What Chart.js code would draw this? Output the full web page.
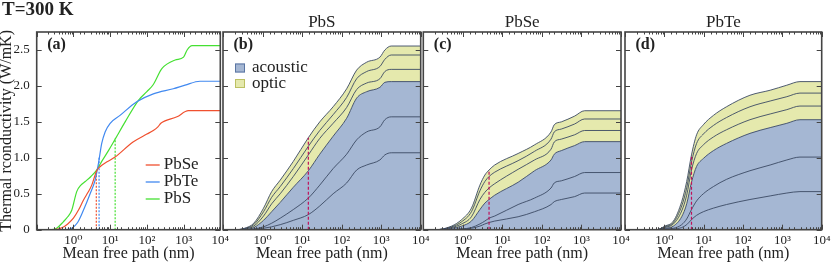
<!DOCTYPE html>
<html>
<head>
<meta charset="utf-8">
<script src="https://cdn.jsdelivr.net/npm/chart.js@4.4.1/dist/chart.umd.min.js"></script>
<style>
  html, body { margin:0; padding:0; background:#fff; }
  #wrap { position:relative; width:831px; height:263px; overflow:hidden; }
  #wrap canvas { position:absolute; top:0; }
</style>
</head>
<body>
<div id="wrap">
  <canvas id="panelA" width="232" height="263" style="left:0px"></canvas>
  <canvas id="panelB" width="218" height="263" style="left:213px"></canvas>
  <canvas id="panelC" width="218" height="263" style="left:413px"></canvas>
  <canvas id="panelD" width="216" height="263" style="left:615px"></canvas>
</div>
<script>
// ── Data ──
const xTickLabels = ['10⁰', '10¹', '10²', '10³', '10⁴'];
const yTickLabels = ['0', '0.5', '1.0', '1.5', '2.0', '2.5'];

// (a) total cumulative conductivity vs mean free path
const materials = ['PbSe', 'PbTe', 'PbS'];
const mfpSe = [0.1, 0.3, 0.5, 0.7, 1.0, 1.4, 1.87, 2.5, 3.16, 4.3, 5.3, 8, 13.6, 42, 100, 150, 200, 240, 660, 1350, 10000];
const kSe   = [0, 0, 0.03, 0.08, 0.16, 0.28, 0.41, 0.52, 0.62, 0.82, 0.875, 0.94, 1.01, 1.22, 1.33, 1.38, 1.43, 1.48, 1.57, 1.655, 1.655];
const mfpTe = [0.1, 0.6, 0.9, 1.3, 1.87, 2.85, 3.9, 4.8, 5.9, 7.3, 10, 18.6, 53, 150, 525, 1100, 2800, 10000];
const kTe   = [0, 0, 0.02, 0.1, 0.27, 0.5, 0.69, 0.92, 1.2, 1.36, 1.48, 1.59, 1.78, 1.89, 1.96, 2.01, 2.065, 2.065];
const mfpS  = [0.1, 0.25, 0.35, 0.53, 0.7, 0.9, 1.23, 1.6, 2.1, 3, 4.3, 5.9, 9, 13.7, 25.6, 59, 100, 150, 256, 590, 1000, 1250, 1700, 10000];
const kS    = [0, 0, 0.02, 0.11, 0.18, 0.27, 0.53, 0.62, 0.67, 0.74, 0.83, 0.95, 1.10, 1.26, 1.50, 1.80, 1.92, 2.02, 2.24, 2.36, 2.40, 2.50, 2.56, 2.56];
const halfMfp = [4.2, 5.0, 13.7];
const halfK   = [0.82, 1.02, 1.27];

// (b)-(d) per-branch cumulative curves, lowest first; first three acoustic, last three optic
const modeNames = ['acoustic', 'optic'];
const mfpPbS = [0.1, 0.2, 0.35, 0.6, 1.06, 1.7, 2.8, 6, 14.4, 28, 61, 134, 240, 430, 930, 1240, 1800, 10000];
const cumPbS = [
  [0, 0, 0, 0.005, 0.02, 0.04, 0.07, 0.13, 0.21, 0.33, 0.50, 0.65, 0.83, 0.90, 0.97, 1.04, 1.07, 1.07],
  [0, 0, 0, 0.01, 0.04, 0.09, 0.16, 0.28, 0.44, 0.62, 0.85, 1.05, 1.25, 1.36, 1.43, 1.53, 1.57, 1.57],
  [0, 0, 0.005, 0.03, 0.13, 0.25, 0.38, 0.59, 0.82, 1.05, 1.30, 1.55, 1.83, 1.92, 1.98, 2.05, 2.06, 2.06],
  [0, 0, 0.01, 0.05, 0.19, 0.36, 0.50, 0.74, 1.04, 1.27, 1.48, 1.70, 1.95, 2.04, 2.10, 2.20, 2.23, 2.23],
  [0, 0, 0.015, 0.07, 0.25, 0.45, 0.60, 0.85, 1.16, 1.38, 1.60, 1.84, 2.10, 2.20, 2.27, 2.37, 2.43, 2.43],
  [0, 0, 0.02, 0.09, 0.30, 0.53, 0.69, 0.95, 1.28, 1.50, 1.71, 1.96, 2.22, 2.33, 2.40, 2.50, 2.555, 2.555],
];
const halfPbS = [14.4, 1.28];

const mfpPbSe = [0.1, 0.2, 0.52, 0.93, 1.65, 2.7, 3.6, 4.6, 6.4, 25, 65, 170, 205, 310, 670, 1200, 10000];
const cumPbSe = [
  [0, 0, 0.003, 0.008, 0.02, 0.05, 0.08, 0.10, 0.12, 0.18, 0.25, 0.35, 0.39, 0.42, 0.46, 0.51, 0.51],
  [0, 0, 0.005, 0.01, 0.03, 0.08, 0.12, 0.16, 0.19, 0.35, 0.44, 0.58, 0.65, 0.68, 0.74, 0.795, 0.795],
  [0, 0, 0.02, 0.05, 0.12, 0.28, 0.37, 0.42, 0.48, 0.66, 0.82, 0.97, 1.05, 1.10, 1.17, 1.225, 1.225],
  [0, 0, 0.03, 0.08, 0.18, 0.42, 0.52, 0.58, 0.64, 0.84, 0.97, 1.12, 1.22, 1.26, 1.32, 1.38, 1.38],
  [0, 0, 0.04, 0.11, 0.25, 0.54, 0.67, 0.74, 0.80, 0.96, 1.09, 1.26, 1.36, 1.40, 1.47, 1.54, 1.54],
  [0, 0, 0.05, 0.14, 0.30, 0.62, 0.76, 0.83, 0.90, 1.06, 1.18, 1.36, 1.46, 1.50, 1.58, 1.655, 1.655],
];
const halfPbSe = [4.6, 0.83];

const mfpPbTe = [0.1, 0.64, 1.03, 1.7, 2.76, 3.7, 4.9, 6.6, 9.8, 17.7, 38, 150, 490, 1300, 2800, 10000];
const cumPbTe = [
  [0, 0, 0.005, 0.01, 0.03, 0.07, 0.14, 0.20, 0.25, 0.30, 0.35, 0.42, 0.47, 0.51, 0.53, 0.53],
  [0, 0, 0.01, 0.02, 0.07, 0.15, 0.28, 0.40, 0.50, 0.60, 0.70, 0.82, 0.90, 0.97, 1.01, 1.01],
  [0, 0, 0.02, 0.05, 0.18, 0.36, 0.66, 0.88, 0.99, 1.10, 1.20, 1.34, 1.42, 1.48, 1.53, 1.53],
  [0, 0, 0.03, 0.08, 0.26, 0.48, 0.83, 1.06, 1.18, 1.29, 1.39, 1.53, 1.61, 1.67, 1.72, 1.72],
  [0, 0, 0.04, 0.10, 0.33, 0.58, 0.94, 1.20, 1.33, 1.45, 1.56, 1.71, 1.79, 1.85, 1.90, 1.90],
  [0, 0, 0.05, 0.12, 0.39, 0.67, 1.04, 1.32, 1.46, 1.59, 1.71, 1.87, 1.94, 2.01, 2.06, 2.06],
];
const halfPbTe = [4.9, 1.04];

// ── Style ──
const FONT = "'Liberation Serif', 'DejaVu Serif', serif";
const INK = '#222';
const FRAME = '#444';
const LINE_COLORS = ['#f0502f', '#4189f0', '#45e032'];
const AREA = { acoustic: '#a5b7d3', optic: '#e5e9ad', edge: '#3b4a63', half: '#c0105a' };

Chart.defaults.font.family = FONT;
Chart.defaults.color = INK;
Chart.defaults.animation = false;

const isDecade = v => {
  const e = Math.log10(v);
  return Math.abs(e - Math.round(e)) < 1e-6;
};

const toPoints = (xs, ys) => xs.map((x, i) => ({ x, y: ys[i] }));

// ── Plugins: inner tick marks + frame, panel texts ──
const frameTicks = {
  id: 'frameTicks',
  afterDraw(chart) {
    const { ctx, chartArea: a, scales: { x, y } } = chart;
    ctx.save();
    ctx.strokeStyle = FRAME;
    ctx.lineWidth = 1;
    ctx.beginPath();
    x.ticks.forEach(t => {
      const px = Math.round(x.getPixelForValue(t.value)) + 0.5;
      const len = isDecade(t.value) ? 5 : 2.5;
      ctx.moveTo(px, a.bottom); ctx.lineTo(px, a.bottom - len);
      ctx.moveTo(px, a.top); ctx.lineTo(px, a.top + len);
    });
    y.ticks.forEach(t => {
      const py = Math.round(y.getPixelForValue(t.value)) + 0.5;
      ctx.moveTo(a.left, py); ctx.lineTo(a.left + 5, py);
      ctx.moveTo(a.right, py); ctx.lineTo(a.right - 5, py);
    });
    ctx.stroke();
    ctx.lineWidth = 1.6;
    ctx.strokeRect(a.left, a.top, a.right - a.left, a.bottom - a.top);
    ctx.restore();
  }
};

const panelText = {
  id: 'panelText',
  afterDraw(chart, args, opts) {
    const { ctx, chartArea: a } = chart;
    ctx.save();
    ctx.fillStyle = INK;
    ctx.textBaseline = 'middle';
    ctx.textAlign = 'left';
    ctx.font = `bold 16px ${FONT}`;
    ctx.fillText(opts.tag, a.left + 10.5, a.top + 12.5);

    ctx.font = `17px ${FONT}`;
    (opts.lines || []).forEach((it, i) => {
      const yy = a.top + opts.top + i * opts.gap;
      ctx.strokeStyle = it.color;
      ctx.lineWidth = 1.3;
      ctx.beginPath();
      ctx.moveTo(a.left + opts.left, yy);
      ctx.lineTo(a.left + opts.left + 14, yy);
      ctx.stroke();
      ctx.fillText(it.label, a.left + opts.left + 18, yy);
    });
    (opts.boxes || []).forEach((it, i) => {
      const yy = a.top + opts.top + i * opts.gap;
      ctx.fillStyle = it.color;
      ctx.fillRect(a.left + opts.left, yy - 4.5, 10, 9);
      ctx.strokeStyle = it.edge;
      ctx.lineWidth = 1;
      ctx.strokeRect(a.left + opts.left + 0.5, yy - 4, 9, 8);
      ctx.fillStyle = INK;
      ctx.fillText(it.label, a.left + opts.left + 17, yy);
    });
    ctx.restore();
  }
};

// ── Shared axes ──
function xAxis() {
  return {
    type: 'logarithmic',
    min: 0.1, max: 10000,
    grid: { display: false, drawTicks: false },
    border: { display: false },
    ticks: {
      autoSkip: false, maxRotation: 0, minRotation: 0, padding: 3,
      color: INK, font: { family: FONT, size: 13 },
      callback: v => {
        if (!isDecade(v)) return '';
        const e = Math.round(Math.log10(v));
        return e >= 0 ? xTickLabels[e] : '';
      }
    },
    title: {
      display: true, text: 'Mean free path (nm)', color: INK, padding: 0,
      font: { family: FONT, size: 16, lineHeight: 1.2 }
    },
    afterFit: s => { s.height = 33.3; s.paddingLeft = 0; s.paddingRight = 0; }
  };
}

function yAxis(showLabels, width) {
  return {
    min: 0, max: 2.75,
    grid: { display: false, drawTicks: false },
    border: { display: false },
    ticks: {
      display: showLabels, stepSize: 0.5, includeBounds: false, padding: 7,
      color: INK, font: { family: FONT, size: 13 },
      callback: (v, i) => yTickLabels[i]
    },
    title: {
      display: showLabels, text: 'Thermal rconductivity (W/mK)', color: INK, padding: 0,
      font: { family: FONT, size: 16, lineHeight: 0.6 }
    },
    afterFit: s => { s.width = width; s.paddingTop = 0; s.paddingBottom = 0; }
  };
}

// ── (a) comparison of the three compounds ──
function buildPanelA() {
  const mfps = [mfpSe, mfpTe, mfpS];
  const ks = [kSe, kTe, kS];
  const curves = materials.map((m, i) => ({
    label: m,
    data: toPoints(mfps[i], ks[i]),
    borderColor: LINE_COLORS[i],
    borderWidth: 1.2,
    pointRadius: 0,
    cubicInterpolationMode: 'monotone',
    fill: false,
  }));
  const halves = materials.map((m, i) => ({
    label: m + ' half',
    data: [{ x: halfMfp[i], y: 0 }, { x: halfMfp[i], y: halfK[i] }],
    borderColor: LINE_COLORS[i],
    borderWidth: 1.2,
    borderDash: [2, 1.5],
    pointRadius: 0,
    fill: false,
  }));

  new Chart(document.getElementById('panelA'), {
    type: 'line',
    data: { datasets: [...curves, ...halves] },
    options: {
      responsive: false,
      layout: { padding: { left: 2, right: 11.7, top: 0, bottom: 0 } },
      plugins: {
        legend: { display: false },
        tooltip: { enabled: false },
        title: {
          display: true, text: 'T=300 K', align: 'start', color: INK,
          font: { family: FONT, size: 19, weight: 'bold', lineHeight: 1 },
          padding: { top: 0.5, bottom: 12.5 }
        },
        panelText: {
          tag: '(a)', left: 109, top: 133, gap: 17,
          lines: materials.map((m, i) => ({ label: m, color: LINE_COLORS[i] }))
        }
      },
      scales: { x: xAxis(), y: yAxis(true, 34.7) }
    },
    plugins: [frameTicks, panelText]
  });
}

// ── (b)-(d) acoustic / optic stacked contributions ──
function buildModePanel(id, name, tag, mfp, cum, half, padL, padR, legend) {
  const half_ = {
    label: 'half',
    data: [{ x: half[0], y: 0 }, { x: half[0], y: half[1] }],
    borderColor: AREA.half,
    borderWidth: 1.2,
    borderDash: [3, 2],
    pointRadius: 0,
    fill: false,
  };
  const branches = cum.map((ys, i) => ({
    label: name + ' ' + (i + 1),
    data: toPoints(mfp, ys),
    borderColor: AREA.edge,
    borderWidth: 0.9,
    pointRadius: 0,
    cubicInterpolationMode: 'monotone',
    fill: i === 2 ? 'origin' : (i === 5 ? 3 : false),
    backgroundColor: i === 2 ? AREA.acoustic : AREA.optic,
  }));

  new Chart(document.getElementById(id), {
    type: 'line',
    data: { datasets: [half_, ...branches] },
    options: {
      responsive: false,
      layout: { padding: { left: padL, right: padR, top: 0, bottom: 0 } },
      plugins: {
        legend: { display: false },
        tooltip: { enabled: false },
        title: {
          display: true, text: name, color: INK,
          font: { family: FONT, size: 17, weight: 'normal', lineHeight: 1 },
          padding: { top: 14.5, bottom: 0.5 }
        },
        panelText: legend ? {
          tag, left: 12, top: 36, gap: 15.5,
          boxes: [
            { label: modeNames[0], color: AREA.acoustic, edge: '#5a75a3' },
            { label: modeNames[1], color: AREA.optic, edge: '#bcc062' },
          ]
        } : { tag }
      },
      scales: { x: xAxis(), y: yAxis(false, 0) }
    },
    plugins: [frameTicks, panelText]
  });
}

// ── Init ──
buildPanelA();
buildModePanel('panelB', 'PbS', '(b)', mfpPbS, cumPbS, halfPbS, 10, 10.3, true);
buildModePanel('panelC', 'PbSe', '(c)', mfpPbSe, cumPbSe, halfPbSe, 10.3, 10, false);
buildModePanel('panelD', 'PbTe', '(d)', mfpPbTe, cumPbTe, halfPbTe, 10, 9.3, false);
</script>
</body>
</html>
